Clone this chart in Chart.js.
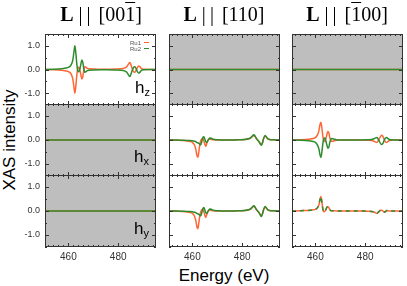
<!DOCTYPE html>
<html><head><meta charset="utf-8">
<script src="https://cdn.jsdelivr.net/npm/chart.js@4/dist/chart.umd.min.js"></script>
<style>
html,body{margin:0;padding:0;background:#fff;}
#wrap{position:relative;width:407px;height:286px;overflow:hidden;font-family:"Liberation Sans",Arial,sans-serif;color:#000;}
canvas{position:absolute;}
.title{position:absolute;top:2px;font-family:"Liberation Serif","Times New Roman",serif;font-size:20px;line-height:24px;color:#000;white-space:nowrap;transform:translateX(-50%);will-change:transform;}
.title span{color:#000;}
.title b{font-weight:bold;color:#000;}
.ol{text-decoration:overline;text-decoration-thickness:1px;}
.hl{position:absolute;font-size:17px;line-height:17px;color:#000;}
.hl sub{font-size:11px;vertical-align:-3px;line-height:0;}
.ylab{position:absolute;left:10px;top:140px;font-size:17px;line-height:20px;white-space:nowrap;transform:translate(-50%,-50%) rotate(-90deg);}
.xlab{position:absolute;left:224px;top:266px;font-size:17px;line-height:20px;white-space:nowrap;transform:translateX(-50%);}
.leg{position:absolute;font-size:6px;line-height:6px;color:#555;white-space:nowrap;}
.leg i{display:inline-block;width:5px;height:1.5px;vertical-align:2px;margin-left:3px;}
</style></head><body><div id="wrap">
<div class="title" style="left:101px"><b>L</b><span style="margin-left:5px">|</span><span style="margin-left:4px">|</span><span style="margin-left:8px">[00<span class="ol">1</span>]</span></div>
<div class="title" style="left:224px"><b>L</b><span style="margin-left:5px">|</span><span style="margin-left:4px">|</span><span style="margin-left:8px">[110]</span></div>
<div class="title" style="left:347px"><b>L</b><span style="margin-left:5px">|</span><span style="margin-left:4px">|</span><span style="margin-left:8px">[<span class="ol">1</span>00]</span></div>
<div class="ylab">XAS intensity</div>
<div class="xlab">Energy (eV)</div>
</div>
<script>
// ---- data ----
const energy = [450.6, 454, 456, 458, 459, 460, 460.8, 461.4, 461.8, 462.2, 462.6, 463.0, 463.4, 463.8, 464.2, 464.6, 465.0, 465.4, 465.8, 466.2, 466.6, 467.0, 467.6, 468.4, 470, 473, 476, 479, 481, 482.5, 483.5, 484.2, 484.7, 485.2, 485.7, 486.2, 486.7, 487.2, 487.7, 488.2, 488.7, 489.2, 489.7, 490.3, 491, 492.5, 495.2];

// L || [00-1], hz
const hzA_Ru1 = [0, -0.01, -0.02, -0.04, -0.06, -0.09, -0.15, -0.26, -0.42, -0.72, -1.0, -0.68, -0.22, 0.06, 0.1, -0.02, -0.22, -0.4, -0.3, -0.02, 0.12, 0.1, 0.05, 0.03, 0.02, 0.01, 0.01, 0.02, 0.03, 0.06, 0.12, 0.24, 0.3, 0.18, 0.02, -0.1, -0.12, -0.04, 0.08, 0.15, 0.12, 0.05, 0.02, 0.01, 0.01, 0, 0];
const hzA_Ru2 = [0, 0.01, 0.02, 0.04, 0.06, 0.09, 0.15, 0.26, 0.42, 0.72, 1.0, 0.68, 0.22, -0.06, -0.1, 0.02, 0.22, 0.4, 0.3, 0.02, -0.12, -0.1, -0.05, -0.03, -0.02, -0.01, -0.01, -0.02, -0.03, -0.06, -0.12, -0.24, -0.3, -0.18, -0.02, 0.1, 0.12, 0.04, -0.08, -0.15, -0.12, -0.05, -0.02, -0.01, -0.01, 0, 0];

// L || [110], hx and hy
const hxB_Ru1 = [0, -0.01, -0.02, -0.04, -0.06, -0.1, -0.2, -0.4, -0.64, -0.72, -0.48, -0.18, -0.02, 0.05, 0.06, -0.04, -0.18, -0.26, -0.14, -0.02, 0.03, 0.04, 0.02, 0.01, 0, 0, 0, 0.01, 0.02, 0.04, 0.09, 0.16, 0.19, 0.14, 0.06, 0, -0.06, -0.14, -0.2, -0.1, 0.08, 0.17, 0.12, 0.05, 0.02, 0.01, 0];
const hxB_Ru2 = [0, 0, -0.01, -0.02, -0.02, -0.03, -0.05, -0.07, -0.1, -0.12, -0.14, -0.18, -0.2, -0.05, 0.1, 0.14, 0.04, -0.08, -0.1, -0.03, 0.04, 0.08, 0.07, 0.03, 0.01, 0, 0, 0.01, 0.02, 0.05, 0.1, 0.18, 0.22, 0.16, 0.07, 0, -0.06, -0.15, -0.22, -0.1, 0.09, 0.19, 0.13, 0.05, 0.02, 0.01, 0];
const hyB_Ru1 = [0, -0.01, -0.02, -0.04, -0.06, -0.1, -0.21, -0.41, -0.66, -0.74, -0.49, -0.18, -0.02, 0.05, 0.06, -0.04, -0.18, -0.27, -0.14, -0.02, 0.03, 0.04, 0.02, 0.01, 0, 0, 0, 0.01, 0.02, 0.04, 0.09, 0.16, 0.2, 0.14, 0.06, 0, -0.06, -0.14, -0.21, -0.1, 0.08, 0.17, 0.12, 0.05, 0.02, 0.01, 0];
const hyB_Ru2 = [0, 0, -0.01, -0.02, -0.02, -0.03, -0.05, -0.07, -0.1, -0.12, -0.14, -0.18, -0.2, -0.05, 0.1, 0.15, 0.04, -0.08, -0.1, -0.03, 0.04, 0.08, 0.07, 0.03, 0.01, 0, 0, 0.01, 0.02, 0.05, 0.1, 0.18, 0.22, 0.16, 0.07, 0, -0.06, -0.15, -0.23, -0.1, 0.09, 0.19, 0.13, 0.05, 0.02, 0.01, 0];

// L || [-100], hx and hy
const hxC_Ru1 = [0, 0.01, 0.02, 0.04, 0.06, 0.1, 0.2, 0.38, 0.62, 0.74, 0.5, 0.15, -0.04, -0.06, 0.05, 0.22, 0.35, 0.3, 0.1, -0.03, -0.06, -0.05, -0.03, -0.01, 0, 0, 0, 0, -0.01, -0.02, -0.05, -0.09, -0.1, -0.04, 0.06, 0.15, 0.2, 0.14, 0, -0.08, -0.1, -0.06, -0.02, -0.01, 0, 0, 0];
const hxC_Ru2 = [0, -0.01, -0.02, -0.04, -0.06, -0.1, -0.2, -0.37, -0.6, -0.73, -0.5, -0.14, 0.06, 0.08, -0.04, -0.2, -0.34, -0.3, -0.1, 0.03, 0.06, 0.05, 0.03, 0.01, 0, 0, 0, 0, 0.01, 0.02, 0.05, 0.09, 0.1, 0.04, -0.06, -0.15, -0.19, -0.13, 0, 0.08, 0.1, 0.06, 0.02, 0.01, 0, 0, 0];
const hyC_Ru1 = [0, 0.01, 0.02, 0.03, 0.05, 0.07, 0.13, 0.25, 0.45, 0.6, 0.38, 0.08, -0.03, -0.02, 0.06, 0.15, 0.18, 0.14, 0.06, 0.02, 0.01, 0.01, 0.01, 0, 0, 0, 0, 0, -0.01, -0.02, -0.04, -0.08, -0.1, -0.06, -0.01, 0.03, 0.03, -0.01, -0.04, -0.02, 0.02, 0.01, 0, 0, 0, 0, 0];
const hyC_Ru2 = [0, 0.01, 0.02, 0.03, 0.05, 0.07, 0.13, 0.26, 0.46, 0.6, 0.37, 0.08, -0.03, -0.02, 0.06, 0.15, 0.18, 0.14, 0.06, 0.02, 0.01, 0.01, 0.01, 0, 0, 0, 0, 0, -0.01, -0.02, -0.04, -0.08, -0.1, -0.06, -0.01, 0.03, 0.03, -0.01, -0.04, -0.02, 0.02, 0.01, 0, 0, 0, 0, 0];

// panels with no signal
const flatEnergy = [450.6, 495.2];
const flat_Ru1 = [0, 0];
const flat_Ru2 = [0, 0];

const seriesNames = ['Ru1', 'Ru2'];
const rowLabels = ['z', 'x', 'y'];
const xTickLabels = [460, 480];
const yTickLabels = [-1.0, 0.0, 1.0];
const xRange = [450.6, 495.2];
const yRange = [-1.5, 1.5];

// ---- layout ----
const colLeft = [45, 169, 292], colW = 111;
const rowTop = [34, 104, 175], rowH = [71, 72, 72];
const hLabelPos = [{x:135, base:93.7}, {x:134, base:162}, {x:134, base:234}];
const ORANGE = '#ff6633', GREEN = '#2e8b2e';

const panels = [
  {r:0,c:0,x:energy,a:hzA_Ru1,b:hzA_Ru2,gray:false},
  {r:0,c:1,x:flatEnergy,a:flat_Ru1,b:flat_Ru2,gray:true},
  {r:0,c:2,x:flatEnergy,a:flat_Ru1,b:flat_Ru2,gray:true},
  {r:1,c:0,x:flatEnergy,a:flat_Ru1,b:flat_Ru2,gray:true},
  {r:1,c:1,x:energy,a:hxB_Ru1,b:hxB_Ru2,gray:false},
  {r:1,c:2,x:energy,a:hxC_Ru1,b:hxC_Ru2,gray:false},
  {r:2,c:0,x:flatEnergy,a:flat_Ru1,b:flat_Ru2,gray:true},
  {r:2,c:1,x:energy,a:hyB_Ru1,b:hyB_Ru2,gray:false},
  {r:2,c:2,x:energy,a:hyC_Ru1,b:hyC_Ru2,gray:false,dash:true}
];

const framePlugin = {
  id: 'frame',
  beforeDraw(ch, args, o) {
    if (!o.gray) return;
    const A = ch.chartArea, c = ch.ctx;
    c.save(); c.fillStyle = '#bebebe';
    c.fillRect(A.left, A.top, A.right - A.left, A.bottom - A.top);
    c.restore();
  },
  afterDraw(ch) {
    const A = ch.chartArea, c = ch.ctx, xs = ch.scales.x, ys = ch.scales.y;
    c.save(); c.strokeStyle = '#333'; c.lineWidth = 1; c.beginPath();
    for (let v = 452; v <= 494; v += 2) {
      const px = Math.round(xs.getPixelForValue(v)) + 0.5;
      const L = xTickLabels.includes(v) ? 4 : 2;
      c.moveTo(px, A.top); c.lineTo(px, A.top + L);
      c.moveTo(px, A.bottom); c.lineTo(px, A.bottom - L);
    }
    for (let k = -3; k <= 3; k++) {
      const v = k * 0.5;
      const py = Math.round(ys.getPixelForValue(v)) + 0.5;
      const L = (k % 2 === 0) ? 4 : 2;
      c.moveTo(A.left, py); c.lineTo(A.left + L, py);
      c.moveTo(A.right, py); c.lineTo(A.right - L, py);
    }
    c.stroke();
    c.strokeRect(A.left + 0.5, A.top + 0.5, A.right - A.left - 1, A.bottom - A.top - 1);
    c.restore();
  }
};

const wrap = document.getElementById('wrap');
function zeroPad(s){ s.paddingTop = 0; s.paddingBottom = 0; s.paddingLeft = 0; s.paddingRight = 0; }

panels.forEach(p => {
  const leftCol = p.c === 0, bottomRow = p.r === 2;
  const padL = leftCol ? colLeft[0] : 0;
  const padB = bottomRow ? 20 : 0;
  const cv = document.createElement('canvas');
  const W = colW + padL, H = rowH[p.r] + padB;
  cv.width = W; cv.height = H;
  cv.style.left = (colLeft[p.c] - padL) + 'px';
  cv.style.top = rowTop[p.r] + 'px';
  cv.style.width = W + 'px'; cv.style.height = H + 'px';
  wrap.appendChild(cv);
  const toPts = arr => p.x.map((e, i) => ({x: e, y: arr[i]}));
  new Chart(cv, {
    type: 'line',
    data: { datasets: [
      {label: seriesNames[0], data: toPts(p.a), borderColor: ORANGE, borderWidth: 1.5, cubicInterpolationMode: 'monotone', order: 1},
      {label: seriesNames[1], data: toPts(p.b), borderColor: GREEN, borderWidth: 1.5, cubicInterpolationMode: 'monotone', order: 0, borderDash: p.dash ? [4, 4] : []}
    ]},
    options: {
      responsive: false, animation: false, devicePixelRatio: 1,
      layout: {padding: 0},
      elements: {point: {radius: 0}},
      plugins: {legend: {display: false}, tooltip: {enabled: false}, frame: {gray: p.gray}},
      scales: {
        x: {type: 'linear', min: xRange[0], max: xRange[1], display: bottomRow,
            grid: {display: false, drawTicks: false}, border: {display: false},
            ticks: {padding: 4, maxRotation: 0, autoSkip: false, color: '#333', font: {family: 'Liberation Sans', size: 10}},
            afterBuildTicks: s => { s.ticks = xTickLabels.map(v => ({value: v})); },
            afterFit: s => { s.height = bottomRow ? padB : 0; zeroPad(s); }},
        y: {type: 'linear', min: yRange[0], max: yRange[1], display: leftCol,
            grid: {display: false, drawTicks: false}, border: {display: false},
            ticks: {padding: 5, color: '#333', font: {family: 'Liberation Sans', size: 9}, callback: v => Number(v).toFixed(1)},
            afterBuildTicks: s => { s.ticks = yTickLabels.map(v => ({value: v})); },
            afterFit: s => { s.width = leftCol ? padL : 0; zeroPad(s); }}
      }
    },
    plugins: [framePlugin]
  });
  if (p.c === 0) {
    const d = document.createElement('div');
    d.className = 'hl';
    d.style.left = hLabelPos[p.r].x + 'px';
    d.style.top = (hLabelPos[p.r].base - 14.4) + 'px';
    d.innerHTML = 'h<sub>' + rowLabels[p.r] + '</sub>';
    wrap.appendChild(d);
  }
});

// legend in the first panel
[[seriesNames[0], ORANGE, 40], [seriesNames[1], GREEN, 46]].forEach(([t, col, top]) => {
  const d = document.createElement('div');
  d.className = 'leg';
  d.style.left = '130px'; d.style.top = top + 'px';
  d.innerHTML = t + '<i style="background:' + col + '"></i>';
  wrap.appendChild(d);
});
</script>
</body></html>
